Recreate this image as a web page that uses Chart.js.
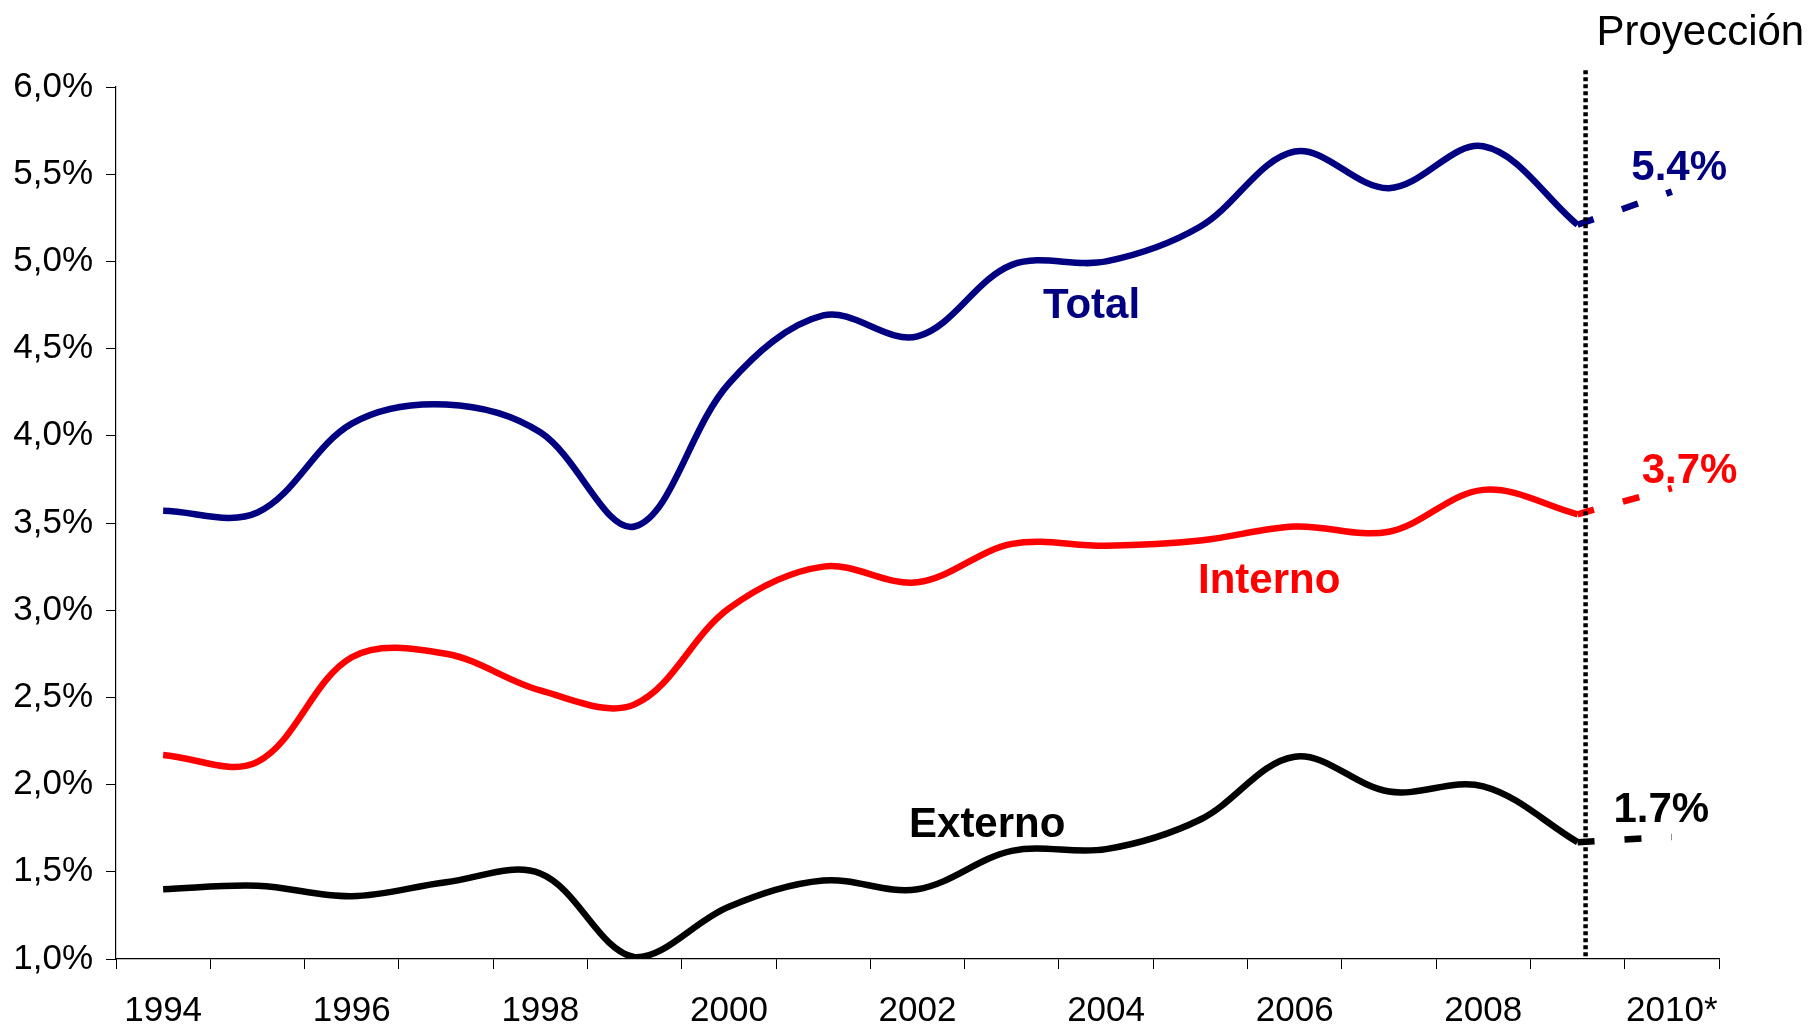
<!DOCTYPE html>
<html>
<head>
<meta charset="utf-8">
<script src="https://cdn.jsdelivr.net/npm/chart.js@4.4.1/dist/chart.umd.min.js"></script>
<style>
  html, body { margin: 0; padding: 0; background: #ffffff; }
  #wrap { width: 1813px; height: 1026px; position: relative; }
</style>
</head>
<body>
<div id="wrap"><canvas id="crecimientoChart"></canvas></div>
<script>
const years = ['1994', '1995', '1996', '1997', '1998', '1999', '2000', '2001', '2002',
               '2003', '2004', '2005', '2006', '2007', '2008', '2009', '2010*'];
const yearTicks = ['1994', '', '1996', '', '1998', '', '2000', '', '2002',
                   '', '2004', '', '2006', '', '2008', '', '2010*'];

const total   = [3.57, 3.56, 4.07, 4.18, 4.02, 3.48, 4.30, 4.69, 4.57, 4.98, 5.00, 5.20, 5.63, 5.42, 5.66, 5.21, null];
const interno = [2.17, 2.13, 2.73, 2.75, 2.54, 2.46, 3.01, 3.25, 3.16, 3.38, 3.37, 3.40, 3.48, 3.45, 3.69, 3.55, null];
const externo = [1.40, 1.42, 1.36, 1.44, 1.49, 1.01, 1.30, 1.45, 1.40, 1.62, 1.63, 1.80, 2.16, 1.96, 1.99, 1.67, null];

// proyeccion 2009 -> 2010
const totalProy   = [null, null, null, null, null, null, null, null, null, null, null, null, null, null, null, 5.21, 5.4];
const internoProy = [null, null, null, null, null, null, null, null, null, null, null, null, null, null, null, 3.55, 3.7];
const externoProy = [null, null, null, null, null, null, null, null, null, null, null, null, null, null, null, 1.67, 1.7];

const yTicks = [1.0, 1.5, 2.0, 2.5, 3.0, 3.5, 4.0, 4.5, 5.0, 5.5, 6.0];

const NAVY = '#000080';
const RED = '#ff0000';
const BLACK = '#000000';
const FONT = "'Liberation Sans', Arial, sans-serif";

document.addEventListener('DOMContentLoaded', function () {
    const ctx = document.getElementById('crecimientoChart');

    const lineaSolida = (data, color) => ({
        data: data, borderColor: color, borderWidth: 6.5, pointRadius: 0,
        tension: 0.35, fill: false, spanGaps: false
    });
    const lineaProy = (data, color) => ({
        data: data, borderColor: color, borderWidth: 6.5, pointRadius: 0,
        borderDash: [17, 30], tension: 0, fill: false
    });

    // textos sobre el grafico (posicion en unidades de las escalas)
    const textos = [
        { t: 'Proyección', x: 15.2, y: 6.239, color: BLACK, bold: false },
        { t: 'Total', x: 9.33, y: 4.674, color: NAVY, bold: true },
        { t: 'Interno', x: 10.975, y: 3.099, color: RED, bold: true },
        { t: 'Externo', x: 7.91, y: 1.70, color: BLACK, bold: true },
        { t: '5.4%', x: 15.57, y: 5.465, color: NAVY, bold: true },
        { t: '3.7%', x: 15.68, y: 3.729, color: RED, bold: true },
        { t: '1.7%', x: 15.38, y: 1.786, color: BLACK, bold: true }
    ];

    const anotaciones = {
        id: 'anotaciones',
        afterDatasetsDraw(chart) {
            const c = chart.ctx;
            const xs = chart.scales.x, ys = chart.scales.y;
            c.save();
            // linea punteada de proyeccion
            const px = xs.getPixelForValue(15.085);
            c.strokeStyle = BLACK;
            c.lineWidth = 4.5;
            c.setLineDash([4, 3]);
            c.beginPath();
            c.moveTo(px, ys.getPixelForValue(6.096));
            c.lineTo(px, ys.bottom);
            c.stroke();
            c.setLineDash([]);

            c.textAlign = 'left';
            c.textBaseline = 'alphabetic';
            textos.forEach(function (l) {
                c.font = (l.bold ? 'bold ' : '') + '42px ' + FONT;
                c.fillStyle = l.color;
                c.fillText(l.t, xs.getPixelForValue(l.x), ys.getPixelForValue(l.y));
            });
            c.restore();
        }
    };

    new Chart(ctx, {
        type: 'line',
        data: {
            labels: years,
            datasets: [
                lineaSolida(externo, BLACK),
                lineaSolida(interno, RED),
                lineaSolida(total, NAVY),
                lineaProy(externoProy, BLACK),
                lineaProy(internoProy, RED),
                lineaProy(totalProy, NAVY)
            ]
        },
        options: {
            responsive: true,
            maintainAspectRatio: false,
            animation: false,
            layout: { padding: { top: 87, right: 94, left: 0, bottom: 0 } },
            plugins: { legend: { display: false }, tooltip: { enabled: false } },
            scales: {
                x: {
                    offset: true,
                    grid: { display: true, offset: true, drawOnChartArea: false, drawTicks: true,
                            tickLength: 10, color: BLACK, lineWidth: 1 },
                    border: { display: true, color: BLACK, width: 1.2 },
                    ticks: {
                        autoSkip: false, maxRotation: 0, minRotation: 0, padding: 21, color: BLACK,
                        font: { size: 35, family: FONT },
                        callback: (v, i) => yearTicks[i]
                    },
                    afterFit: s => { s.height = 67; }
                },
                y: {
                    min: yTicks[0],
                    max: yTicks[yTicks.length - 1],
                    grid: { display: true, drawOnChartArea: false, drawTicks: true,
                            tickLength: 10, color: BLACK, lineWidth: 1 },
                    border: { display: true, color: BLACK, width: 1.2 },
                    afterBuildTicks: s => { s.ticks = yTicks.map(v => ({ value: v })); },
                    ticks: {
                        padding: 13, color: BLACK,
                        font: { size: 35, family: FONT },
                        callback: v => v.toFixed(1).replace('.', ',') + '%'
                    },
                    afterFit: s => { s.width = 116; }
                }
            }
        },
        plugins: [anotaciones]
    });
});
</script>
</body>
</html>
